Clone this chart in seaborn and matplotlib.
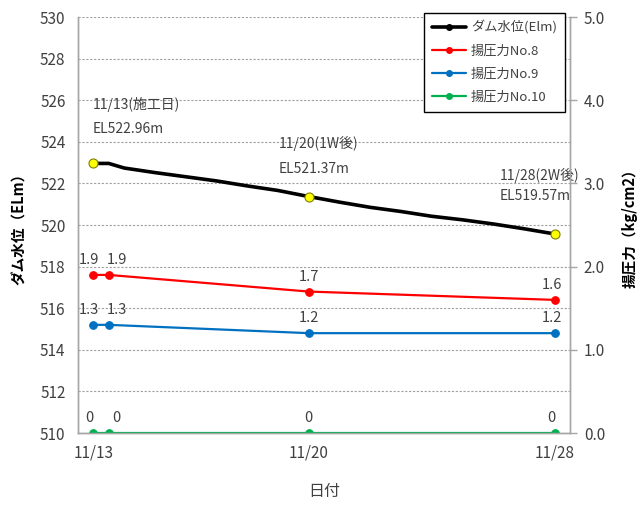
import numpy as np
import pandas as pd
import seaborn as sns
import matplotlib
matplotlib.use('Agg')
from matplotlib import pyplot as plt
from matplotlib.lines import Line2D

# dam water level, day of November
dam_days = [13, 13.5, 14, 15, 16, 17, 18, 19, 20, 21, 22, 23, 24, 25, 26, 27, 28]
dam_level = [522.96, 522.96, 522.74, 522.52, 522.32, 522.12, 521.88, 521.66, 521.37,
             521.10, 520.85, 520.65, 520.42, 520.25, 520.05, 519.82, 519.57]
key_days = [13, 20, 28]
key_notes = ['11/13(施工日)', '11/20(1W後)', '11/28(2W後)']

# uplift pressure
p_days = [13, 13.5, 20, 28]
p_no8 = [1.9, 1.9, 1.7, 1.6]
p_no9 = [1.3, 1.3, 1.2, 1.2]
p_no10 = [0, 0, 0, 0]

tick_days = [13, 20, 28]
tick_labels = ['11/13', '11/20', '11/28']

sns.set_theme(style='white')
plt.rcParams['font.family'] = ['Noto Sans CJK JP', 'DejaVu Sans']

fig = plt.figure(figsize=(6.37, 5.09), dpi=100)
ax = fig.add_axes([78/637, 76/509, 492/637, 416/509])
ax2 = ax.twinx()

grey = '#A6A6A6'
txt = '#404040'

dam = pd.DataFrame({'day': dam_days, 'level': dam_level})
sns.lineplot(data=dam, x='day', y='level', ax=ax, color='black', linewidth=2.6, zorder=3)
key = dam[dam['day'].isin(key_days)]
ax.plot(key['day'], key['level'], 'o', ms=6.5, mfc='#FFFF00', mec='#7F7F00', mew=0.8, zorder=4)

# note offsets (pixels) relative to the marked points
note_dx = [-1, -30, -55]
note_dy = [59, 53, 58]
note_dy2 = [34, 28, 38]
for i, (d, v) in enumerate(key[['day', 'level']].values):
    ax.annotate(key_notes[i], (d, v), xytext=(note_dx[i], note_dy[i]), textcoords='offset pixels',
                ha='left', va='center', fontsize=10, color=txt)
    ax.annotate(f'EL{v:.2f}m', (d, v), xytext=(note_dx[i], note_dy2[i]), textcoords='offset pixels',
                ha='left', va='center', fontsize=10, color=txt)

series = [('揚圧力No.8', p_no8, '#FF0000'),
          ('揚圧力No.9', p_no9, '#0070C0'),
          ('揚圧力No.10', p_no10, '#00B050')]
label_dx = [-4, 8, 0, -3]
for name, vals, col in series:
    df = pd.DataFrame({'day': p_days, 'p': vals})
    sns.lineplot(data=df, x='day', y='p', ax=ax2, color=col, linewidth=1.6,
                 marker='o', markersize=5.5, markeredgecolor=col)
    for j, (d, v) in enumerate(zip(p_days, vals)):
        lab = '0' if v == 0 else f'{v:.1f}'
        ax2.annotate(lab, (d, v), xytext=(label_dx[j], 8), textcoords='offset pixels',
                     ha='center', va='bottom', fontsize=10.5, color=txt)

ax.set_xlim(12.5, 28.5)
ax.set_ylim(510, 530)
ax.set_yticks(np.arange(510, 531, 2))
ax2.set_ylim(0, 5)
ax2.set_yticks(np.arange(0, 5.1, 1.0))
ax2.set_yticklabels([f'{t:.1f}' for t in np.arange(0, 5.1, 1.0)])
ax.set_xticks(tick_days)
ax.set_xticklabels(tick_labels)

ax.grid(axis='y', linestyle=(0, (2, 1.5)), color='#A0A0A0', linewidth=0.8)
ax.set_axisbelow(True)
for a in (ax, ax2):
    a.spines['top'].set_visible(False)
    for s in ('left', 'right', 'bottom'):
        a.spines[s].set_color(grey)
        a.spines[s].set_linewidth(1.0)
ax.tick_params(axis='y', length=0, pad=9, labelsize=11, labelcolor=txt)
ax.tick_params(axis='x', length=0, pad=8, labelsize=11, labelcolor=txt)
ax2.tick_params(axis='y', length=5, width=1, color=grey, direction='out', pad=5,
                labelsize=11, labelcolor=txt)

ax.set_xlabel('日付', fontsize=11.5, color=txt, labelpad=16)
ax.set_ylabel('ダム水位（ELm）', fontsize=10.5, fontweight='bold', color='black', labelpad=9)
ax2.set_ylabel('揚圧力（kg/cm2）', fontsize=10.5, fontweight='bold', color='black', labelpad=12)

handles = [Line2D([], [], color='black', lw=2.6, marker='o', ms=4, label='ダム水位(Elm)')]
handles += [Line2D([], [], color=c, lw=1.6, marker='o', ms=4, label=n) for n, _, c in series]
leg = ax2.legend(handles=handles, loc='upper right', bbox_to_anchor=(565/637, 1 - 13/509),
                 bbox_transform=fig.transFigure, fontsize=9.5, frameon=True, fancybox=False,
                 framealpha=1, edgecolor='black', handlelength=2.6, labelspacing=0.75,
                 borderpad=0.6, handletextpad=0.4, borderaxespad=0)
leg.get_frame().set_linewidth(1.0)
for t in leg.get_texts():
    t.set_color(txt)

fig.savefig('out.png', dpi=100)
